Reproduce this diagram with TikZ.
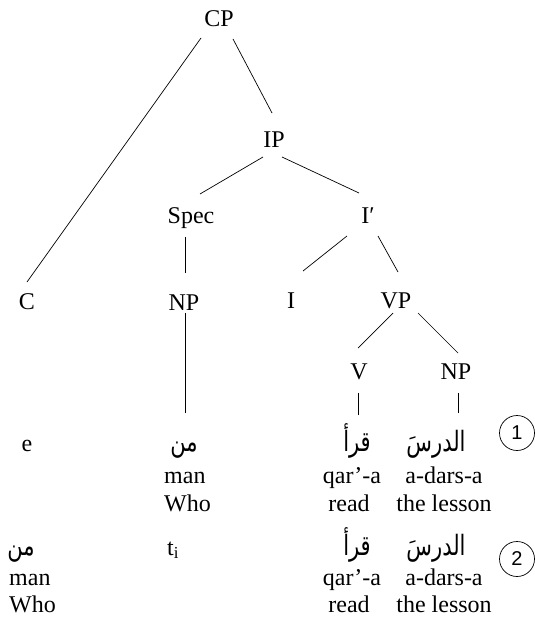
\documentclass[tikz,border=0pt]{standalone}
\usepackage{fontspec}
\setmainfont{Liberation Serif}
\newfontfamily\arabicfont[Script=Arabic, FakeStretch=0.75]{DejaVu Sans}
\newfontfamily\digitfont{Liberation Sans}
\TeXXeTstate=1
\tikzset{
  lbl/.style={anchor=base, inner sep=0pt, font=\fontsize{24bp}{28bp}\selectfont},
  lblw/.style={lbl, anchor=base west},
  artext/.style={anchor=base, inner sep=0pt, font=\fontsize{28bp}{32bp}\arabicfont},
  branch/.style={line width=0.7bp},
  num/.style={draw, circle, line width=0.7bp, minimum size=35bp, inner sep=0pt,
              font=\fontsize{20bp}{22bp}\digitfont}
}
\begin{document}
\begin{tikzpicture}[x=1bp, y=-1bp]
\useasboundingbox (0,0) rectangle (535,617);

% tree labels
\node[lbl] (CP)   at (219,27)  {CP};
\node[lbl] (IP)   at (274,148) {IP};
\node[lbl] (Spec) at (191,223) {Spec};
\node[lbl] (Ibar) at (368,223) {I′};
\node[lbl] (C)    at (27,309)  {C};
\node[lbl] (NP)   at (184,310) {NP};
\node[lbl] (I)    at (291,308) {I};
\node[lbl] (VP)   at (396,308) {VP};
\node[lbl] (V)    at (359,379) {V};
\node[lbl] (NPo)  at (456,379) {NP};

% sentence 1
\node[lbl]     (e1)    at (27,451)  {e};
\node[artext]  (man1a) at (184,451) {\beginR من\endR};
\node[artext]  (qar1a) at (357,451) {\beginR قرأ\endR};
\node[artext]  (dar1a) at (436,451) {\beginR الدرسَ\endR};
\node[num]     (n1)    at (517,433) {1};
\node[lblw]    (man1)  at (164,483) {man};
\node[lblw]    (who1)  at (164,511) {Who};
\node[lbl]     (qar1)  at (352,483) {qar’-a};
\node[lbl]     (read1) at (349,511) {read};
\node[lbl]     (dar1)  at (444,483) {a-dars-a};
\node[lbl]     (les1)  at (444,511) {the lesson};

% sentence 2
\node[artext]  (man2a) at (21,555)  {\beginR من\endR};
\node[lblw]    (tr2)   at (167,555) {t\textsubscript{i}};
\node[artext]  (qar2a) at (357,555) {\beginR قرأ\endR};
\node[artext]  (dar2a) at (436,555) {\beginR الدرسَ\endR};
\node[num]     (n2)    at (517,559) {2};
\node[lblw]    (man2)  at (9,585)   {man};
\node[lblw]    (who2)  at (9,612)   {Who};
\node[lbl]     (qar2)  at (352,585) {qar’-a};
\node[lbl]     (read2) at (349,612) {read};
\node[lbl]     (dar2)  at (444,585) {a-dars-a};
\node[lbl]     (les2)  at (444,612) {the lesson};

% branches
\draw[branch] ([shift={(-18,11)}]CP.base)  -- ([shift={(0,-27)}]C.base);
\draw[branch] ([shift={(14,12)}]CP.base)   -- ([shift={(-2,-35)}]IP.base);
\draw[branch] ([shift={(-11,9)}]IP.base)   -- ([shift={(9,-29)}]Spec.base);
\draw[branch] ([shift={(8,9)}]IP.base)     -- ([shift={(-9,-30)}]Ibar.base);
\draw[branch] ([shift={(-6,14)}]Spec.base) -- ([shift={(1,-37)}]NP.base);
\draw[branch] ([shift={(-21,13)}]Ibar.base)-- ([shift={(12,-37)}]I.base);
\draw[branch] ([shift={(10,13)}]Ibar.base) -- ([shift={(2,-36)}]VP.base);
\draw[branch] ([shift={(-3,5)}]VP.base)    -- ([shift={(-1,-31)}]V.base);
\draw[branch] ([shift={(22,5)}]VP.base)    -- ([shift={(2,-26)}]NPo.base);
\draw[branch] ([shift={(1,3)}]NP.base)     -- ([shift={(1,-38)}]man1a.base);
\draw[branch] ([shift={(-1,14)}]V.base)    -- ([shift={(1,-36)}]qar1a.base);
\draw[branch] ([shift={(2,14)}]NPo.base)   -- ([shift={(22,-38)}]dar1a.base);
\end{tikzpicture}
\end{document}
